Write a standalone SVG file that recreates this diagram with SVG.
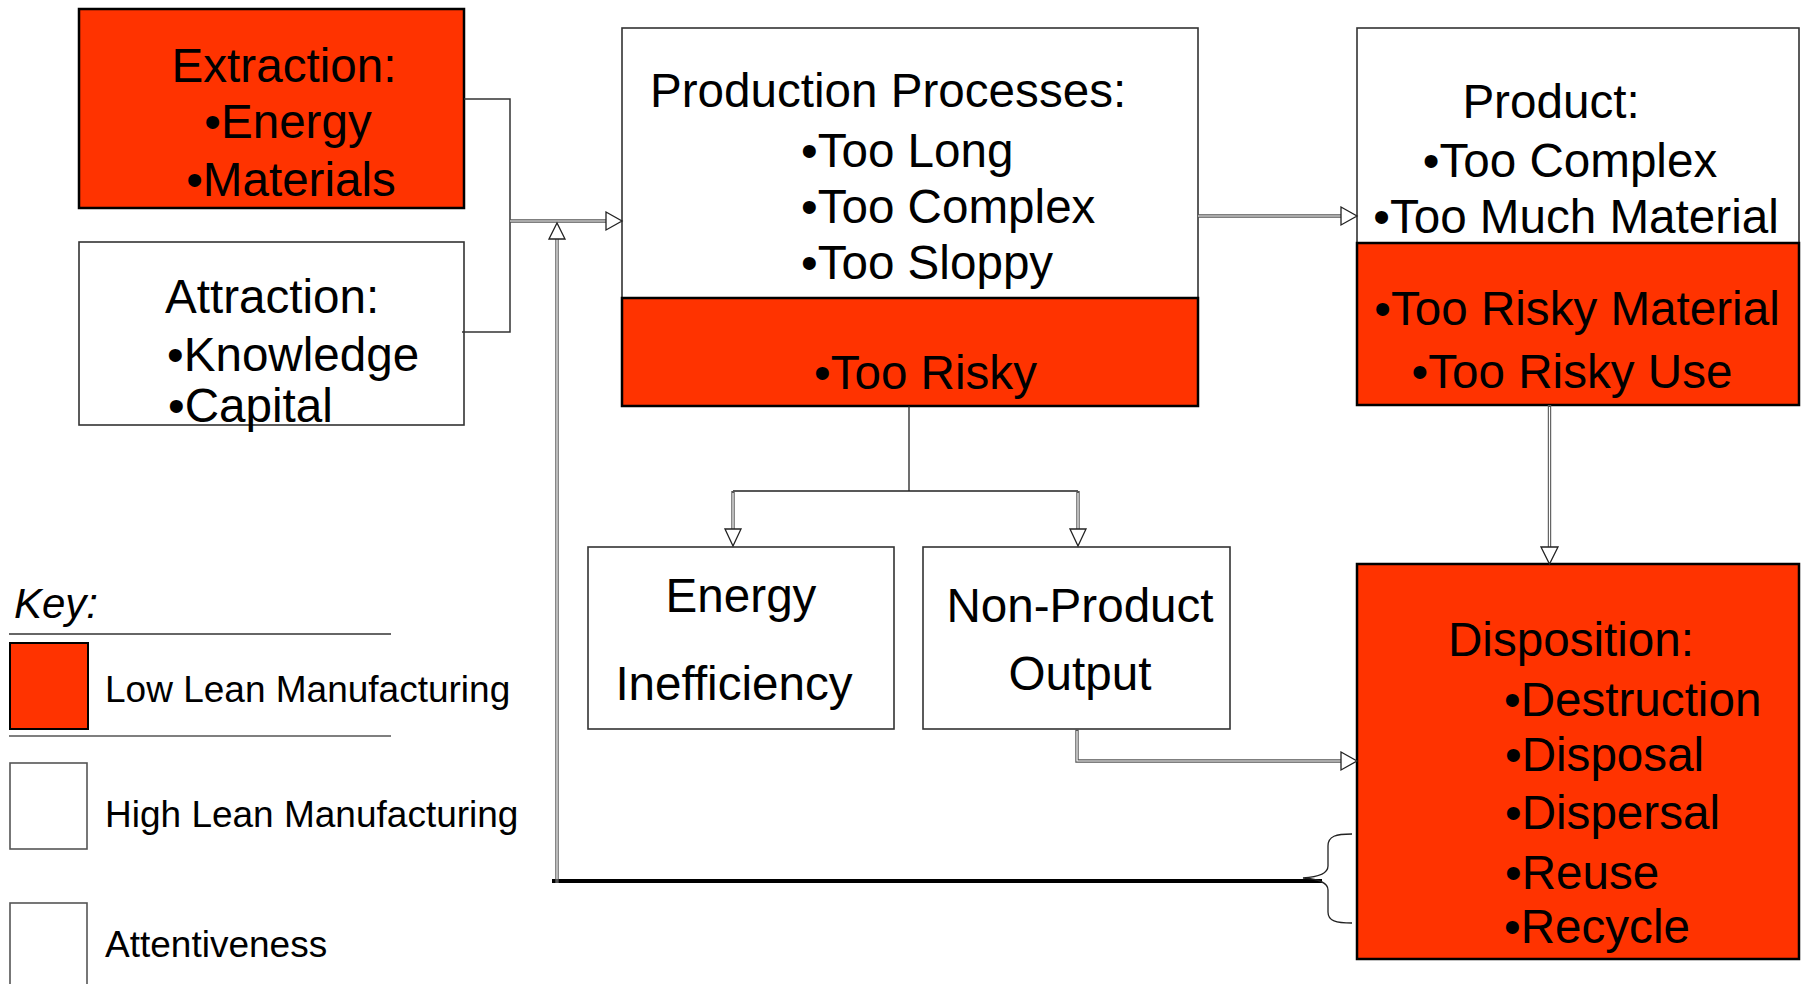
<svg xmlns="http://www.w3.org/2000/svg" width="1805" height="984" viewBox="0 0 1805 984">
<style>
  text { font-family: "Liberation Sans", Arial, sans-serif; fill: #000; }
  .big { font-size: 47.6px; }
  .key { font-size: 37px; }
  .red { fill: #FF3300; stroke: #000; stroke-width: 2.5; }
  .wht { fill: #FFFFFF; stroke: #333; stroke-width: 1.6; }
  .thin { fill: none; stroke: #333; stroke-width: 1.5; }
  .dbl-o { fill: none; stroke: #555; stroke-width: 3.4; }
  .dbl-i { fill: none; stroke: #fff; stroke-width: 1.2; }
  .head { fill: #fff; stroke: #222; stroke-width: 1.3; }
  .mid { text-anchor: middle; }
</style>
<rect width="1805" height="984" fill="#fff"/>

<g id="extraction">
  <rect class="red" x="79" y="9" width="385" height="199"/>
  <text class="big mid" x="284" y="82">Extraction:</text>
  <text class="big mid" x="288" y="138">•Energy</text>
  <text class="big mid" x="291" y="196">•Materials</text>
</g>

<g id="attraction">
  <rect class="wht" x="79" y="242" width="385" height="183"/>
  <text class="big" x="165" y="313">Attraction:</text>
  <text class="big" x="167" y="371">•Knowledge</text>
  <text class="big" x="168" y="422">•Capital</text>
</g>

<g id="production">
  <rect class="wht" x="622" y="28" width="576" height="270"/>
  <rect class="red" x="622" y="298" width="576" height="108"/>
  <text class="big" x="650" y="107">Production Processes:</text>
  <text class="big" x="801" y="167">•Too Long</text>
  <text class="big" x="801" y="223">•Too Complex</text>
  <text class="big" x="801" y="279">•Too Sloppy</text>
  <text class="big" x="814" y="389">•Too Risky</text>
</g>

<g id="product">
  <rect class="wht" x="1357" y="28" width="442" height="215"/>
  <rect class="red" x="1357" y="243" width="442" height="162"/>
  <text class="big mid" x="1551" y="118">Product:</text>
  <text class="big mid" x="1570" y="177">•Too Complex</text>
  <text class="big mid" x="1576" y="233">•Too Much Material</text>
  <text class="big mid" x="1577" y="325">•Too Risky Material</text>
  <text class="big mid" x="1572" y="388">•Too Risky Use</text>
</g>

<g id="energy-inefficiency">
  <rect class="wht" x="588" y="547" width="306" height="182"/>
  <text class="big mid" x="741" y="612">Energy</text>
  <text class="big mid" x="734" y="700">Inefficiency</text>
</g>

<g id="non-product-output">
  <rect class="wht" x="923" y="547" width="307" height="182"/>
  <text class="big mid" x="1080" y="622">Non-Product</text>
  <text class="big mid" x="1080" y="690">Output</text>
</g>

<g id="disposition">
  <rect class="red" x="1357" y="564" width="442" height="395"/>
  <text class="big mid" x="1571" y="656">Disposition:</text>
  <text class="big" x="1504" y="716">•Destruction</text>
  <text class="big" x="1505" y="771">•Disposal</text>
  <text class="big" x="1505" y="829">•Dispersal</text>
  <text class="big" x="1505" y="889">•Reuse</text>
  <text class="big" x="1504" y="943">•Recycle</text>
</g>

<g id="key">
  <text x="14" y="618" style="font-size:42px;font-style:italic">Key:</text>
  <line x1="9" y1="634" x2="391" y2="634" stroke="#333" stroke-width="1.5"/>
  <rect class="red" x="10" y="643" width="78" height="86" style="stroke-width:2"/>
  <line x1="9" y1="736" x2="391" y2="736" stroke="#555" stroke-width="1.5"/>
  <text class="key" x="105" y="702">Low Lean Manufacturing</text>
  <rect class="wht" x="10" y="763" width="77" height="86" style="stroke:#555"/>
  <text class="key" x="105" y="827">High Lean Manufacturing</text>
  <rect class="wht" x="10" y="903" width="77" height="100" style="stroke:#555"/>
  <text class="key" x="105" y="957">Attentiveness</text>
</g>

<g id="connectors">
  <path class="thin" d="M464,99 H510 V332 H462"/>
  <path class="dbl-o" d="M510,221 H607"/>
  <path class="dbl-i" d="M510,221 H607"/>
  <polygon class="head" points="606,212 622,221 606,230"/>

  <line x1="552" y1="881" x2="1322" y2="881" stroke="#000" stroke-width="4"/>
  <path class="dbl-o" d="M557,883 V238"/>
  <path class="dbl-i" d="M557,879 V238"/>
  <polygon class="head" points="549,239 557,223 565,239"/>
  <path fill="none" stroke="#222" stroke-width="1.3" d="M1352,834 C1336,834 1328,836 1328,846 V866 C1328,874 1318,877 1303,878 C1318,879 1328,882 1328,890 V912 C1328,921 1336,923 1352,923"/>

  <path class="dbl-o" d="M1198,216 H1342"/>
  <path class="dbl-i" d="M1198,216 H1342"/>
  <polygon class="head" points="1341,207 1357,216 1341,225"/>

  <path fill="none" stroke="#222" stroke-width="1.3" d="M909,406 V491 M733,491 H1078"/>
  <path class="dbl-o" d="M733,491 V530 M1078,491 V530"/>
  <path class="dbl-i" d="M733,493 V530 M1078,493 V530"/>
  <polygon class="head" points="725,529 733,546 741,529"/>
  <polygon class="head" points="1070,529 1078,546 1086,529"/>

  <path class="dbl-o" d="M1077,729 V761 H1342"/>
  <path class="dbl-i" d="M1077,731 V761 H1342"/>
  <polygon class="head" points="1341,752 1357,761 1341,770"/>

  <path class="dbl-o" d="M1549.5,405 V548"/>
  <path class="dbl-i" d="M1549.5,407 V548"/>
  <polygon class="head" points="1541,547 1549.5,564 1558,547"/>
</g>
</svg>
